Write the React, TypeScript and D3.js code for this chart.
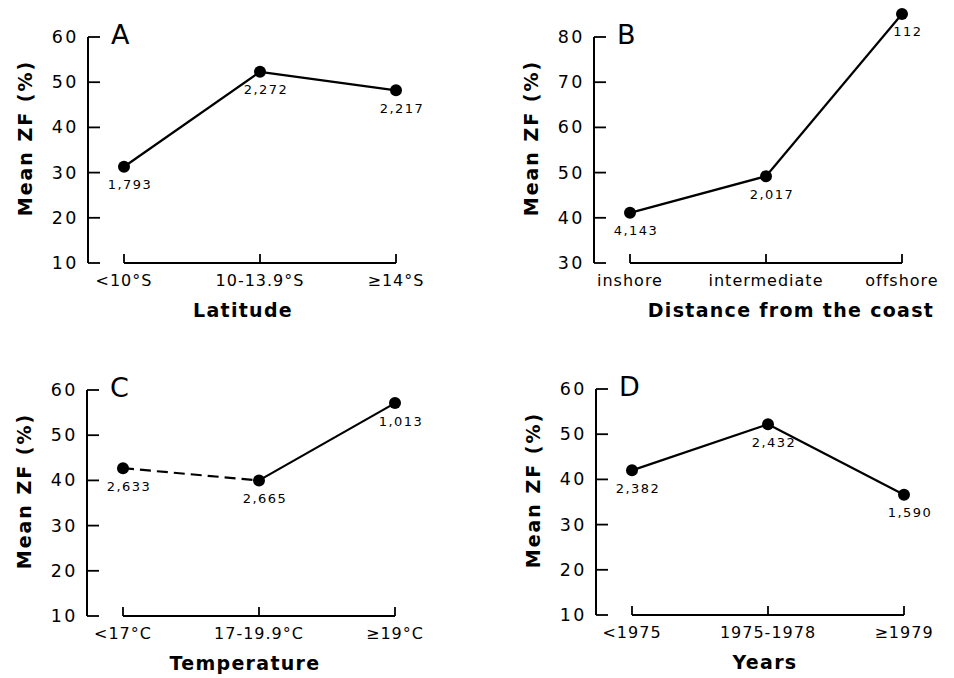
import React from "react";
import * as d3 from "d3";

// ---------- data ----------
const panelLetters = ["A", "B", "C", "D"];

const latitudeCats = ["<10°S", "10-13.9°S", "≥14°S"];
const latitudeZF = [31.3, 52.3, 48.2];
const latitudeN = ["1,793", "2,272", "2,217"];

const distanceCats = ["inshore", "intermediate", "offshore"];
const distanceZF = [41.1, 49.2, 85.1];
const distanceN = ["4,143", "2,017", "112"];

const temperatureCats = ["<17°C", "17-19.9°C", "≥19°C"];
const temperatureZF = [42.7, 40.0, 57.1];
const temperatureN = ["2,633", "2,665", "1,013"];

const yearCats = ["<1975", "1975-1978", "≥1979"];
const yearZF = [42.0, 52.2, 36.6];
const yearN = ["2,382", "2,432", "1,590"];

const ticks10to60 = [10, 20, 30, 40, 50, 60];
const ticks30to80 = [30, 40, 50, 60, 70, 80];

const xTitles = ["Latitude", "Distance from the coast", "Temperature", "Years"];
const yTitle = "Mean ZF (%)";

// dashed flags per segment (between consecutive points)
const latitudeDashed = [false, false];
const distanceDashed = [false, false];
const temperatureDashed = [true, false];
const yearDashed = [false, false];

// ---------- layout ----------
const W = 954;
const H = 678;
const PLOT_H = 226;
const CAT_PAD = 36;
const CAT_SPAN = 272;
const FONT = "'DejaVu Sans', sans-serif";

const layout = [
  { axisX: 88, bottom: 263, titleX: 243 },
  { axisX: 594, bottom: 263, titleX: 791 },
  { axisX: 87, bottom: 616, titleX: 245 },
  { axisX: 596, bottom: 615, titleX: 765 },
];

const panels = [
  { cats: latitudeCats, values: latitudeZF, counts: latitudeN, ticks: ticks10to60, dashed: latitudeDashed },
  { cats: distanceCats, values: distanceZF, counts: distanceN, ticks: ticks30to80, dashed: distanceDashed },
  { cats: temperatureCats, values: temperatureZF, counts: temperatureN, ticks: ticks10to60, dashed: temperatureDashed },
  { cats: yearCats, values: yearZF, counts: yearN, ticks: ticks10to60, dashed: yearDashed },
];

function Panel({ idx }: { idx: number }) {
  const p = panels[idx];
  const L = layout[idx];
  const y = d3
    .scaleLinear()
    .domain([p.ticks[0], p.ticks[p.ticks.length - 1]])
    .range([L.bottom, L.bottom - PLOT_H]);
  const x = d3
    .scalePoint<string>()
    .domain(p.cats)
    .range([L.axisX + CAT_PAD, L.axisX + CAT_PAD + CAT_SPAN]);
  const yTop = y(p.ticks[p.ticks.length - 1]);
  const yBot = y(p.ticks[0]);
  const pts = p.cats.map((c, i) => [x(c) as number, y(p.values[i])] as [number, number]);
  const line = d3.line();
  const xFirst = x(p.cats[0]) as number;
  const xLast = x(p.cats[p.cats.length - 1]) as number;

  return (
    <g>
      {/* y axis */}
      <line x1={L.axisX} x2={L.axisX} y1={yTop} y2={yBot} stroke="#000" strokeWidth={2} />
      {p.ticks.map((t) => (
        <g key={t}>
          <line x1={L.axisX} x2={L.axisX + 12} y1={y(t)} y2={y(t)} stroke="#000" strokeWidth={1.8} />
          <text
            x={L.axisX - 9}
            y={y(t)}
            textAnchor="end"
            dominantBaseline="central"
            fontSize={17.5}
            letterSpacing={2.5}
            fontFamily={FONT}
          >
            {t}
          </text>
        </g>
      ))}
      {/* x axis */}
      <line x1={xFirst} x2={xLast} y1={yBot} y2={yBot} stroke="#000" strokeWidth={1.8} />
      {p.cats.map((c) => (
        <g key={c}>
          <line x1={x(c)} x2={x(c)} y1={yBot} y2={yBot - 9} stroke="#000" strokeWidth={1.8} />
          <text
            x={x(c)}
            y={yBot + 17}
            textAnchor="middle"
            dominantBaseline="central"
            fontSize={16}
            letterSpacing={1}
            fontFamily={FONT}
          >
            {c}
          </text>
        </g>
      ))}
      {/* data line */}
      {p.dashed.map((d, i) => (
        <path
          key={i}
          d={line([pts[i], pts[i + 1]]) || ""}
          fill="none"
          stroke="#000"
          strokeWidth={2.2}
          strokeDasharray={d ? "11 6" : undefined}
        />
      ))}
      {pts.map((pt, i) => (
        <g key={i}>
          <circle cx={pt[0]} cy={pt[1]} r={6} fill="#000" />
          <text
            x={pt[0] + 6}
            y={pt[1] + 18}
            textAnchor="middle"
            dominantBaseline="central"
            fontSize={13}
            letterSpacing={1.5}
            fontFamily={FONT}
          >
            {p.counts[i]}
          </text>
        </g>
      ))}
      {/* panel letter */}
      <text x={L.axisX + 23} y={yTop + 7} fontSize={27} fontFamily={FONT}>
        {panelLetters[idx]}
      </text>
      {/* y title */}
      <text
        transform={`translate(${L.axisX - 63},${(yTop + yBot) / 2 - 12}) rotate(-90)`}
        textAnchor="middle"
        dominantBaseline="central"
        fontSize={19}
        fontWeight="bold"
        letterSpacing={2}
        fontFamily={FONT}
      >
        {yTitle}
      </text>
      {/* x title */}
      <text
        x={L.titleX}
        y={yBot + 54}
        textAnchor="middle"
        fontSize={19}
        fontWeight="bold"
        letterSpacing={1.3}
        fontFamily={FONT}
      >
        {xTitles[idx]}
      </text>
    </g>
  );
}

export default function App() {
  return (
    <svg
      width={W}
      height={H}
      viewBox={`0 0 ${W} ${H}`}
      style={{ position: "absolute", left: 0, top: 0, background: "#fff" }}
    >
      <rect width={W} height={H} fill="#fff" />
      {panels.map((_, i) => (
        <Panel key={i} idx={i} />
      ))}
    </svg>
  );
}
